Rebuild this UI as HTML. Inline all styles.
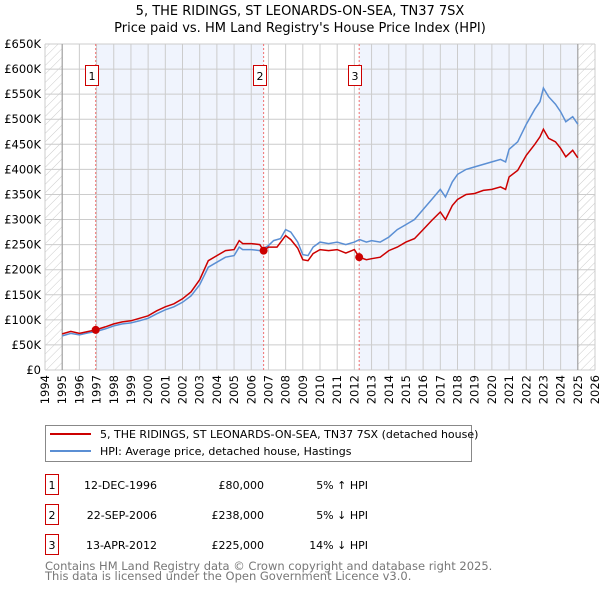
<!DOCTYPE html>
<html><head><meta charset="utf-8"><style>
body{margin:0;background:#fff;width:600px;height:590px;overflow:hidden;font-family:"DejaVu Sans","Liberation Sans",sans-serif}
svg text{font-family:"DejaVu Sans","Liberation Sans",sans-serif}
</style></head><body>
<svg id="chart" width="600" height="590" xmlns="http://www.w3.org/2000/svg">
<defs><pattern id="hatch" patternUnits="userSpaceOnUse" width="6" height="6" patternTransform="rotate(45)"><line x1="0" y1="0" x2="0" y2="6" stroke="#ccc" stroke-width="1"/></pattern></defs>
<text x="300" y="15" text-anchor="middle" font-size="13">5, THE RIDINGS, ST LEONARDS-ON-SEA, TN37 7SX</text>
<text x="300" y="32" text-anchor="middle" font-size="13">Price paid vs. HM Land Registry's House Price Index (HPI)</text>
<g id="bg"></g><g id="grid"></g><g id="axes"></g><g id="series"></g><g id="marks"></g>
<g>
<rect x="45.5" y="425.5" width="426" height="36" fill="#fff" stroke="#888"/>
<line x1="50" y1="434" x2="91" y2="434" stroke="#cc0000" stroke-width="2"/>
<text x="100" y="438" font-size="11">5, THE RIDINGS, ST LEONARDS-ON-SEA, TN37 7SX (detached house)</text>
<line x1="50" y1="451" x2="91" y2="451" stroke="#5b8fd4" stroke-width="2"/>
<text x="100" y="455" font-size="11">HPI: Average price, detached house, Hastings</text>
</g>
<g id="table" font-size="11"></g>
<text x="45" y="570" font-size="11.5" fill="#777">Contains HM Land Registry data © Crown copyright and database right 2025.</text>
<text x="45" y="580" font-size="11.5" fill="#777">This data is licensed under the Open Government Licence v3.0.</text>
</svg>
<script>
const hpiDates=[1995,1995.5,1996,1996.5,1997,1997.5,1998,1998.5,1999,1999.5,2000,2000.5,2001,2001.5,2002,2002.5,2003,2003.5,2004,2004.5,2005,2005.3,2005.5,2006,2006.5,2007,2007.3,2007.7,2008,2008.3,2008.7,2009,2009.3,2009.6,2010,2010.5,2011,2011.5,2012,2012.3,2012.7,2013,2013.5,2014,2014.5,2015,2015.5,2016,2016.5,2017,2017.3,2017.7,2018,2018.5,2019,2019.5,2020,2020.5,2020.8,2021,2021.5,2022,2022.5,2022.8,2023,2023.3,2023.7,2024,2024.3,2024.7,2025];
const hpiValues=[68,73,70,74,77,82,88,92,94,98,103,112,120,126,135,148,170,205,215,225,228,245,240,240,238,248,258,262,280,275,255,230,228,245,255,252,255,250,255,260,255,258,255,265,280,290,300,320,340,360,345,375,390,400,405,410,415,420,415,440,455,490,520,535,562,545,530,515,495,505,490];
const priceDates=[1995,1995.5,1996,1996.95,1997.5,1998,1998.5,1999,1999.5,2000,2000.5,2001,2001.5,2002,2002.5,2003,2003.5,2004,2004.5,2005,2005.3,2005.5,2006,2006.5,2006.72,2007,2007.5,2008,2008.3,2008.7,2009,2009.3,2009.6,2010,2010.5,2011,2011.5,2012,2012.28,2012.7,2013,2013.5,2014,2014.5,2015,2015.5,2016,2016.5,2017,2017.3,2017.7,2018,2018.5,2019,2019.5,2020,2020.5,2020.8,2021,2021.5,2022,2022.5,2022.8,2023,2023.3,2023.7,2024,2024.3,2024.7,2025];
const priceValues=[72,77,73,80,86,92,96,98,103,108,118,126,132,142,156,180,218,228,238,240,258,252,252,250,238,245,245,268,260,243,220,218,232,240,238,240,233,240,225,220,222,225,238,245,255,262,280,298,315,300,328,340,350,352,358,360,365,360,385,398,428,450,465,480,462,455,442,425,438,423];
const saleDates=[1996.95,2006.72,2012.28];
const salePrices=[80,238,225];
const saleLabels=["1","2","3"];
const saleDateText=["12-DEC-1996","22-SEP-2006","13-APR-2012"];
const salePriceText=["£80,000","£238,000","£225,000"];
const saleHpiText=["5% ↑ HPI","5% ↓ HPI","14% ↓ HPI"];
const yTicks=[0,50,100,150,200,250,300,350,400,450,500,550,600,650];
const yTickLabels=["£0","£50K","£100K","£150K","£200K","£250K","£300K","£350K","£400K","£450K","£500K","£550K","£600K","£650K"];
const xTicks=[1994,1995,1996,1997,1998,1999,2000,2001,2002,2003,2004,2005,2006,2007,2008,2009,2010,2011,2012,2013,2014,2015,2016,2017,2018,2019,2020,2021,2022,2023,2024,2025,2026];
const NS="http://www.w3.org/2000/svg";
const X0=45,X1=595,Y0=370,Y1=44;
const xs=d=>X0+(d-1994)/(2026-1994)*(X1-X0);
const ys=v=>Y0-v/650*(Y0-Y1);
function mk(parent,tag,attrs){const e=document.createElementNS(NS,tag);for(const k in attrs)e.setAttribute(k,attrs[k]);document.getElementById(parent).appendChild(e);return e;}
let e;
e=mk('bg','rect',{x:X0,y:Y1,width:X1-X0,height:Y0-Y1,fill:'#fff'});


e=mk('bg','rect',{x:xs(saleDates[0]),y:Y1,width:xs(saleDates[1])-xs(saleDates[0]),height:Y0-Y1,fill:'#f0f4fd'});


e=mk('bg','rect',{x:xs(saleDates[2]),y:Y1,width:xs(2025)-xs(saleDates[2]),height:Y0-Y1,fill:'#f0f4fd'});


e=mk('bg','rect',{x:X0,y:Y1,width:xs(1995)-X0,height:Y0-Y1,fill:'url(#hatch)'});


e=mk('bg','rect',{x:xs(2025),y:Y1,width:X1-xs(2025),height:Y0-Y1,fill:'url(#hatch)'});


yTicks.forEach((v,i)=>{
 e=mk('grid','line',{x1:X0,x2:X1,y1:ys(v),y2:ys(v),stroke:'#ccc','stroke-width':1});
 
 
 e=mk('axes','text',{x:X0-4,y:ys(v)+4,'text-anchor':'end','font-size':11.5});
 
 
 e.textContent=yTickLabels[i];
});
xTicks.forEach(d=>{
 e=mk('grid','line',{x1:xs(d),x2:xs(d),y1:Y1,y2:Y0,stroke:'#ccc','stroke-width':1});
 
 
 e=mk('axes','text',{x:0,y:0,'text-anchor':'end','font-size':11.5,transform:`translate(${xs(d)+4},${Y0+5}) rotate(-90)`});
 
 
 e.textContent=d;
});
e=mk('grid','line',{x1:xs(1995),x2:xs(1995),y1:Y1,y2:Y0,stroke:'#999'});


e=mk('grid','line',{x1:xs(2025),x2:xs(2025),y1:Y1,y2:Y0,stroke:'#999'});


saleDates.forEach((d,i)=>{
 e=mk('grid','line',{x1:xs(d),x2:xs(d),y1:Y1,y2:Y0,stroke:'#f07070','stroke-dasharray':'2,2'});
 
 
});
const path=(dd,vv)=>dd.map((d,i)=>(i?'L':'M')+xs(d).toFixed(1)+','+ys(vv[i]).toFixed(1)).join('');
e=mk('series','path',{d:path(hpiDates,hpiValues),fill:'none',stroke:'#5b8fd4','stroke-width':1.5});


e=mk('series','path',{d:path(priceDates,priceValues),fill:'none',stroke:'#cc0000','stroke-width':1.5});


saleDates.forEach((d,i)=>{
 e=mk('marks','circle',{cx:xs(d),cy:ys(salePrices[i]),r:4,fill:'#cc0000'});
 
 
 e=mk('marks','rect',{x:Math.round(xs(d))-10.5,y:65.5,width:13,height:20,fill:'#fff',stroke:'#cc0000'});
 
 
 e=mk('marks','text',{x:Math.round(xs(d))-4,y:80,'text-anchor':'middle','font-size':11});
 
 
 e.textContent=saleLabels[i];
 const ty=[485,515,545][i];
 e=mk('table','rect',{x:45.5,y:ty-10.5,width:13,height:20,fill:'#fff',stroke:'#cc0000'});
 
 
 e=mk('table','text',{x:52,y:ty+4,'text-anchor':'middle'});
 
 
 e.textContent=saleLabels[i];
 e=mk('table','text',{x:157,y:ty+4,'text-anchor':'end'});
 
 
 e.textContent=saleDateText[i];
 e=mk('table','text',{x:264,y:ty+4,'text-anchor':'end'});
 
 
 e.textContent=salePriceText[i];
 e=mk('table','text',{x:368,y:ty+4,'text-anchor':'end'});
 
 
 e.textContent=saleHpiText[i];
});
</script>
</body></html>
